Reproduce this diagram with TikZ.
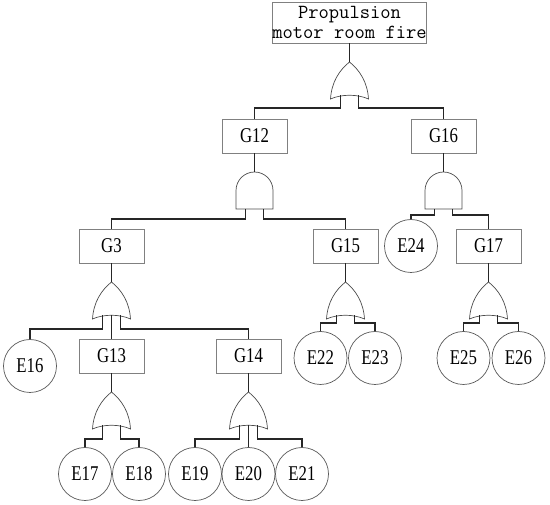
\documentclass[tikz,border=0pt]{standalone}
\usepackage{fontspec}
\newfontfamily\labfont[FakeStretch=0.8]{Liberation Serif}
\tikzset{
  gbox/.style={draw=black!50, line width=0.7pt, minimum width=65pt, minimum height=34pt, inner sep=0pt, font=\labfont\fontsize{21}{24}\selectfont},
  ebox/.style={circle, draw=black!65, line width=0.7pt, minimum size=53pt, inner sep=0pt, font=\labfont\fontsize{21}{24}\selectfont},
  topbox/.style={draw=black!50, line width=0.7pt, minimum width=147pt, minimum height=41pt, inner sep=0pt, align=center, font=\ttfamily\fontsize{20}{19.5}\selectfont\addfontfeatures{FakeStretch=0.88}},
  conn/.style={draw=black!85, line width=1.1pt},
  gateline/.style={draw=black!70, line width=0.7pt},
  orgate/.pic={
    \draw[gateline] (-19,37) .. controls (-18,20) and (-10,8) .. (0,0) .. controls (10,8) and (18,20) .. (19,37) .. controls (8,32) and (-8,32) .. cycle;
    \coordinate (-top) at (0,0);
    \coordinate (-l) at (-9,33.5);
    \coordinate (-m) at (0,33);
    \coordinate (-r) at (9,33.5);
  },
  andgate/.pic={
    \draw[gateline] (-18.5,37) -- (-18.5,18.5) .. controls (-18.5,8.3) and (-10.2,0) .. (0,0) .. controls (10.2,0) and (18.5,8.3) .. (18.5,18.5) -- (18.5,37) -- cycle;
    \coordinate (-top) at (0,0);
    \coordinate (-l) at (-9,37);
    \coordinate (-r) at (9,37);
  }
}
\begin{document}
\begin{tikzpicture}[x=1pt,y=-1pt]
\useasboundingbox (0,0) rectangle (550,505);

% nodes
\node[topbox] (top) at (349.5,22.5) {Propulsion\\motor room fire};
\node[gbox] (G12) at (254.5,136) {G12};
\node[gbox] (G16) at (443.5,136) {G16};
\node[gbox] (G3) at (111.5,246) {G3};
\node[gbox] (G15) at (345.5,246) {G15};
\node[ebox] (E24) at (411,246) {E24};
\node[gbox] (G17) at (488.5,246) {G17};
\node[ebox] (E16) at (30,366) {E16};
\node[gbox] (G13) at (111.5,356) {G13};
\node[gbox] (G14) at (248.5,356) {G14};
\node[ebox] (E22) at (320.5,358) {E22};
\node[ebox] (E23) at (375,358) {E23};
\node[ebox] (E25) at (463.5,358) {E25};
\node[ebox] (E26) at (518.5,358) {E26};
\node[ebox] (E17) at (85,474) {E17};
\node[ebox] (E18) at (139,474) {E18};
\node[ebox] (E19) at (195,474) {E19};
\node[ebox] (E20) at (248.5,474) {E20};
\node[ebox] (E21) at (302,474) {E21};

% gates
\pic (gTop) at (349.5,62) {orgate};
\pic (gG12) at (254.5,172) {andgate};
\pic (gG16) at (443.5,172) {andgate};
\pic (gG3) at (111.5,282) {orgate};
\pic (gG15) at (345.5,282) {orgate};
\pic (gG17) at (488.5,282) {orgate};
\pic (gG13) at (111.5,392) {orgate};
\pic (gG14) at (248.5,392) {orgate};

% connectors
\draw[conn] (top) -- (gTop-top);
\draw[conn] (gTop-l) -- ++(0,12.5) -| (G12);
\draw[conn] (gTop-r) -- ++(0,12.5) -| (G16);

\draw[conn] (G12) -- (gG12-top);
\draw[conn] (gG12-l) -- ++(0,10) -| (G3);
\draw[conn] (gG12-r) -- ++(0,10) -| (G15);

\draw[conn] (G16) -- (gG16-top);
\draw[conn] (gG16-l) -- ++(0,6) -| (E24);
\draw[conn] (gG16-r) -- ++(0,6) -| (G17);

\draw[conn] (G3) -- (gG3-top);
\draw[conn] (gG3-l) -- ++(0,13.5) -| (E16);
\draw[conn] (gG3-m) -- (G13);
\draw[conn] (gG3-r) -- ++(0,13.5) -| (G14);

\draw[conn] (G15) -- (gG15-top);
\draw[conn] (gG15-l) -- ++(0,7.5) -| (E22);
\draw[conn] (gG15-r) -- ++(0,7.5) -| (E23);

\draw[conn] (G17) -- (gG17-top);
\draw[conn] (gG17-l) -- ++(0,7.5) -| (E25);
\draw[conn] (gG17-r) -- ++(0,7.5) -| (E26);

\draw[conn] (G13) -- (gG13-top);
\draw[conn] (gG13-l) -- ++(0,13.5) -| (E17);
\draw[conn] (gG13-r) -- ++(0,13.5) -| (E18);

\draw[conn] (G14) -- (gG14-top);
\draw[conn] (gG14-l) -- ++(0,13.5) -| (E19);
\draw[conn] (gG14-m) -- (E20);
\draw[conn] (gG14-r) -- ++(0,13.5) -| (E21);
\end{tikzpicture}
\end{document}
